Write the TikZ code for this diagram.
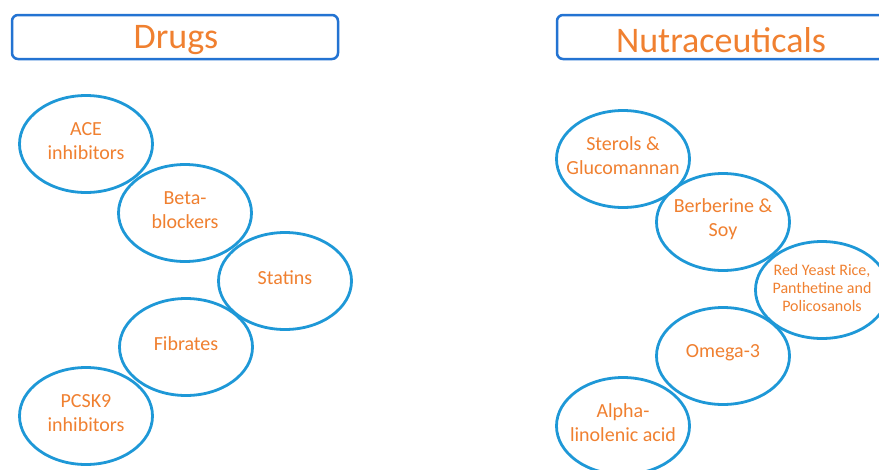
\documentclass[tikz,border=0pt]{standalone}
\usepackage{fontspec}
\setmainfont{Carlito}
\usetikzlibrary{shapes.geometric}
\definecolor{boxblue}{RGB}{35,115,210}
\definecolor{ellblue}{RGB}{30,152,215}
\definecolor{txtorange}{RGB}{240,128,48}
\tikzset{
  titlebox/.style={draw=boxblue, line width=2.5pt, rounded corners=6pt, minimum height=44pt, inner sep=0pt},
  ttxt/.style={text=txtorange, font=\fontsize{36}{40}\selectfont, inner sep=0pt},
  ell/.style={draw=ellblue, line width=2.8pt, ellipse, minimum width=133pt, minimum height=97pt, inner sep=0pt},
  etxt/.style={text=txtorange, align=center, font=\fontsize{20}{24}\selectfont, inner sep=0pt, yshift=3pt},
  stxt/.style={text=txtorange, align=center, font=\fontsize{16}{18}\selectfont, inner sep=0pt, yshift=2pt}
}
\begin{document}
\begin{tikzpicture}[x=1pt,y=-1pt]
\useasboundingbox (0,0) rectangle (879,469);
\clip (0,0) rectangle (879,469);
\fill[white] (0,0) rectangle (879,469);
% titles
\node[titlebox, minimum width=326pt] (drugs) at (175,37) {};
\node[ttxt] (drugst) at (176,40) {Drugs};
\node[titlebox, minimum width=328pt] (nutra) at (721,37) {};
\node[ttxt] (nutrat) at (721,40) {Nutraceuticals};
% drugs
\node[ell] (ace) at (86,144) {};
\node[etxt] (acet) at (ace) {ACE\\inhibitors};
\node[ell] (beta) at (185,213) {};
\node[etxt] (betat) at (beta) {Beta-\\blockers};
\node[ell] (stat) at (285,281) {};
\node[etxt] (statt) at (stat) {Statins};
\node[ell] (fib) at (186,347) {};
\node[etxt] (fibt) at (fib) {Fibrates};
\node[ell] (pcsk) at (86,416) {};
\node[etxt] (pcskt) at (pcsk) {PCSK9\\inhibitors};
% nutraceuticals
\node[ell] (ster) at (623,159) {};
\node[etxt] (stert) at (ster) {Sterols \&\\Glucomannan};
\node[ell] (berb) at (723,222) {};
\node[etxt] (berbt) at (berb) {Berberine \&\\Soy};
\node[ell] (rye) at (822,290) {};
\node[stxt] (ryet) at (rye) {Red Yeast Rice,\\Panthetine and\\Policosanols};
\node[ell] (omega) at (723,356) {};
\node[etxt] (omegat) at (omega) {Omega-3};
\node[ell] (alpha) at (623,426) {};
\node[etxt] (alphat) at (alpha) {Alpha-\\linolenic acid};
\end{tikzpicture}
\end{document}
